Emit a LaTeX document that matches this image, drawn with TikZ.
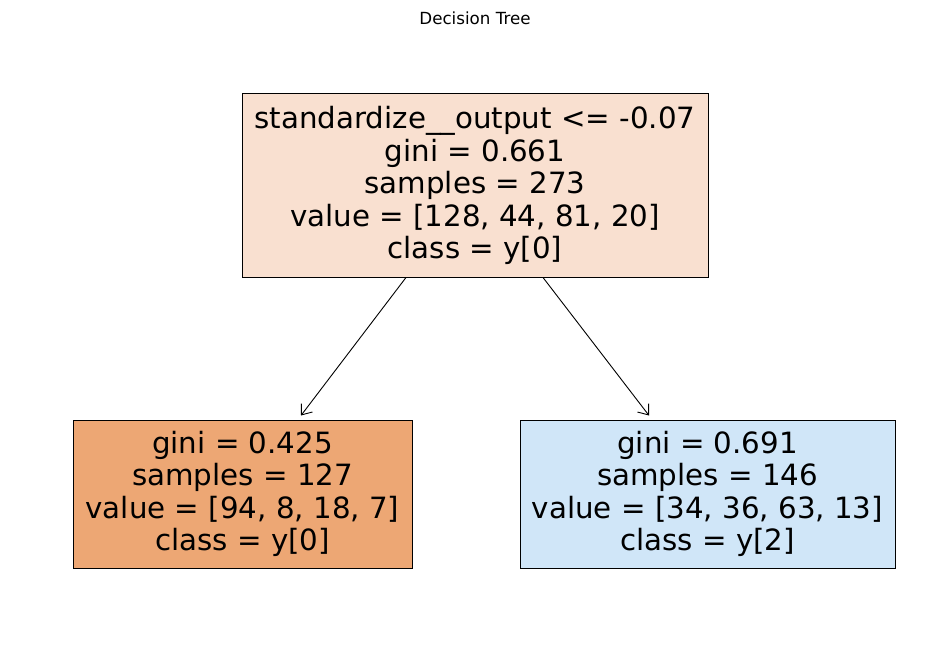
\documentclass[tikz,border=0pt]{standalone}
\usepackage{fontspec}
\setmainfont{DejaVu Sans}
\usetikzlibrary{arrows.meta}
\definecolor{rootfill}{HTML}{F9E0D0}
\definecolor{leftfill}{HTML}{EDA774}
\definecolor{rightfill}{HTML}{D0E6F8}
\tikzset{
  treebox/.style={draw=black, line width=1pt, rectangle, inner sep=0pt, align=center,
    font=\fontsize{29.3}{32.5}\selectfont},
  edge/.style={line width=0.9pt, -{Straight Barb[length=9pt,width=14pt,line width=0.9pt]}}
}
\begin{document}
\begin{tikzpicture}[x=1pt,y=-1pt]
\useasboundingbox (0,0) rectangle (950,658);
\node[font=\fontsize{16.7}{20}\selectfont] (title) at (475,18) {Decision Tree};
\node[treebox, fill=rootfill, minimum width=466pt, minimum height=183pt] (root) at (475,185.5)
  {standardize\_\_output <= -0.07\\gini = 0.661\\samples = 273\\value = [128, 44, 81, 20]\\class = y[0]};
\node[treebox, fill=leftfill, minimum width=339pt, minimum height=148pt] (left) at (242.5,494)
  {gini = 0.425\\samples = 127\\value = [94, 8, 18, 7]\\class = y[0]};
\node[treebox, fill=rightfill, minimum width=375pt, minimum height=148pt] (right) at (707.5,494)
  {gini = 0.691\\samples = 146\\value = [34, 36, 63, 13]\\class = y[2]};
\draw[edge] ([xshift=-69pt]root.south) -- ([xshift=58.5pt,yshift=4pt]left.north);
\draw[edge] ([xshift=68pt]root.south) -- ([xshift=-58.5pt,yshift=4pt]right.north);
\end{tikzpicture}
\end{document}
